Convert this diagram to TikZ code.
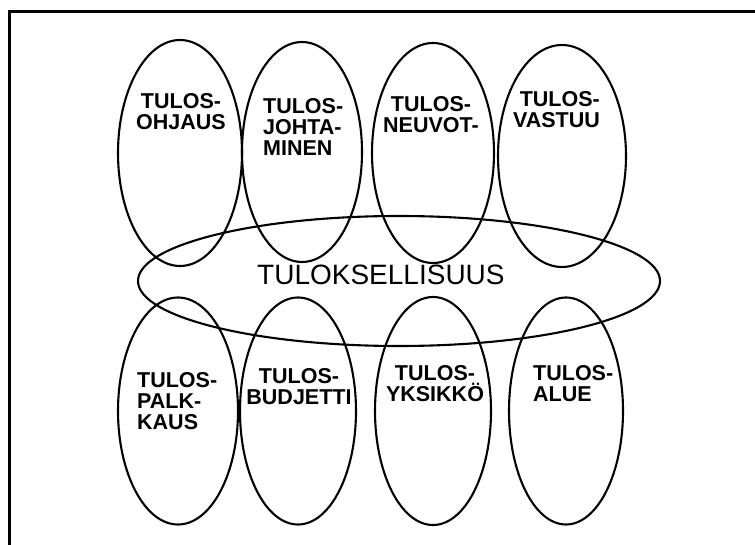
\documentclass[tikz,border=0pt]{standalone}
\usepackage{fontspec}
\setmainfont{Liberation Sans}
\usetikzlibrary{shapes.geometric}
\begin{document}
\begin{tikzpicture}[x=1pt,y=-1pt,
  oval/.style={draw,ellipse,line width=2.1pt,inner sep=0pt},
  lbl/.style={inner sep=0pt,font=\bfseries\fontsize{21.5}{21}\selectfont},
  big/.style={inner sep=0pt,font=\fontsize{28}{28}\selectfont}]
\useasboundingbox (0,0) rectangle (755,545);
% frame (left and top only)
\coordinate (fb) at (9.5,545);
\coordinate (fc) at (9.5,12);
\coordinate (fr) at (755,12);
\draw[line width=3pt] (fb) -- (fc) -- (fr);
% top ellipses
\node[oval,minimum width=124pt,minimum height=226pt] (e1) at (180,153) {};
\node[oval,minimum width=120pt,minimum height=220pt] (e2) at (302,152) {};
\node[oval,minimum width=122pt,minimum height=220pt] (e3) at (433,153) {};
\node[oval,minimum width=128pt,minimum height=222pt] (e4) at (562,156) {};
% centre ellipse
\node[oval,minimum width=522pt,minimum height=130pt] (ec) at (399,281) {};
% bottom ellipses
\node[oval,minimum width=120pt,minimum height=227pt] (e5) at (178,411) {};
\node[oval,minimum width=116pt,minimum height=227pt] (e6) at (298,411) {};
\node[oval,minimum width=116pt,minimum height=228pt] (e7) at (433,411) {};
\node[oval,minimum width=114pt,minimum height=227pt] (e8) at (566,411) {};
% labels
\node[lbl,align=center,anchor=north] (t1) at (181,93) {TULOS-\\OHJAUS};
\node[lbl,align=left,anchor=north west] (t2) at (263,98) {TULOS-\\JOHTA-\\MINEN};
\node[lbl,align=center,anchor=north] (t3) at (431,96) {TULOS-\\NEUVOT-};
\node[lbl,align=right,anchor=north east] (t4) at (600,91) {TULOS-\\VASTUU};
\node[big,anchor=base west] (tc) at (257,285) {TULOKSELLISUUS};
\node[lbl,align=left,anchor=north west] (t5) at (137,372) {TULOS-\\PALK-\\KAUS};
\node[lbl,align=center,anchor=north] (t6) at (299,368) {TULOS-\\BUDJETTI};
\node[lbl,align=center,anchor=north] (t7) at (435,365) {TULOS-\\YKSIKKÖ};
\node[lbl,align=left,anchor=north west] (t8) at (533,365) {TULOS-\\ALUE};
\end{tikzpicture}
\end{document}
